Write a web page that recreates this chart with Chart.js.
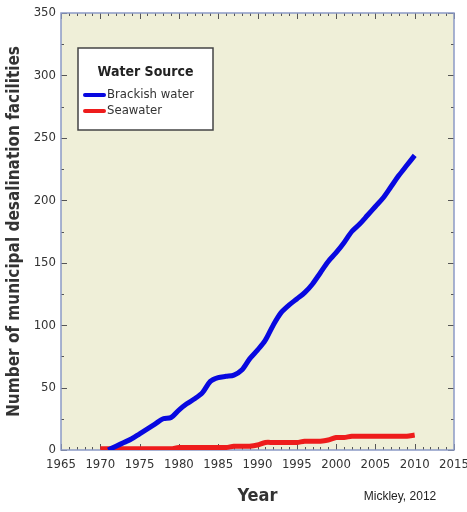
<!DOCTYPE html>
<html>
<head>
<meta charset="utf-8">
<script src="https://cdn.jsdelivr.net/npm/chart.js@4.4.1/dist/chart.umd.min.js"></script>
<style>
  html, body { margin: 0; padding: 0; background: #fff; }
</style>
</head>
<body>
<canvas id="desal-chart" width="467" height="512"></canvas>
<script>
const years = [1970, 1971, 1972, 1973, 1974, 1975, 1976, 1977, 1978, 1979,
               1980, 1981, 1982, 1983, 1984, 1985, 1986, 1987, 1988, 1989,
               1990, 1991, 1992, 1993, 1994, 1995, 1996, 1997, 1998, 1999,
               2000, 2001, 2002, 2003, 2004, 2005, 2006, 2007, 2008, 2009, 2010];
const brackish = [null, 0, 3, 6, 9, 13, 17, 21, 25, 26,
                  32, 37, 41, 46, 55, 58, 59, 60, 64, 73,
                  80, 88, 100, 110, 116, 121, 126, 133, 142, 151,
                  158, 166, 175, 181, 188, 195, 202, 211, 220, 228, 236];
const seawater = [1, 1, 1, 1, 1, 1, 1, 1, 1, 1,
                  2, 2, 2, 2, 2, 2, 2, 3, 3, 3,
                  4, 6, 6, 6, 6, 6, 7, 7, 7, 8,
                  10, 10, 11, 11, 11, 11, 11, 11, 11, 11, 12];
const seriesNames = ['Brackish water', 'Seawater'];
const seriesColors = ['#0808e0', '#ee1c1c'];
const xTicks = [1965, 1970, 1975, 1980, 1985, 1990, 1995, 2000, 2005, 2010, 2015];
const yTicks = [0, 50, 100, 150, 200, 250, 300, 350];

const tickFont = "'DejaVu Sans Condensed', 'Liberation Sans Narrow', sans-serif";

// plot background, frame, inside tick marks, legend box and source note
const decor = {
  id: 'decor',
  beforeDatasetsDraw(chart) {
    const { ctx, chartArea: a, scales } = chart;
    ctx.save();
    ctx.fillStyle = '#efefd8';
    ctx.fillRect(a.left, a.top, a.right - a.left, a.bottom - a.top);

    ctx.strokeStyle = '#555';
    ctx.lineWidth = 1;
    ctx.beginPath();
    for (let yr = 1965; yr <= 2015; yr++) {
      const x = Math.round(scales.x.getPixelForValue(yr)) + 0.5;
      const len = yr % 5 === 0 ? 6 : 3;
      ctx.moveTo(x, a.bottom); ctx.lineTo(x, a.bottom - len);
      ctx.moveTo(x, a.top); ctx.lineTo(x, a.top + len);
    }
    for (let v = 0; v <= 350; v += 25) {
      const y = Math.round(scales.y.getPixelForValue(v)) + 0.5;
      const len = v % 50 === 0 ? 6 : 3;
      ctx.moveTo(a.left, y); ctx.lineTo(a.left + len, y);
      ctx.moveTo(a.right, y); ctx.lineTo(a.right - len, y);
    }
    ctx.stroke();

    ctx.strokeStyle = '#8c9ac6';
    ctx.lineWidth = 1.5;
    ctx.strokeRect(a.left, a.top, a.right - a.left, a.bottom - a.top);
    ctx.restore();
  },
  afterDatasetsDraw(chart) {
    const { ctx, chartArea: a } = chart;
    const bx = a.left + 17, by = a.top + 35, bw = 135, bh = 82;
    ctx.save();
    ctx.fillStyle = '#fff';
    ctx.fillRect(bx, by, bw, bh);
    ctx.strokeStyle = '#444';
    ctx.lineWidth = 1.5;
    ctx.strokeRect(bx, by, bw, bh);

    ctx.fillStyle = '#222';
    ctx.font = "bold 14px " + tickFont;
    ctx.textAlign = 'center';
    ctx.textBaseline = 'middle';
    ctx.fillText('Water Source', bx + bw / 2, by + 24);

    ctx.font = "13px " + tickFont;
    ctx.textAlign = 'left';
    chart.data.datasets.forEach((ds, i) => {
      const y = by + 47 + i * 16;
      ctx.strokeStyle = ds.borderColor;
      ctx.lineWidth = 4;
      ctx.lineCap = 'round';
      ctx.beginPath();
      ctx.moveTo(bx + 7, y); ctx.lineTo(bx + 26, y);
      ctx.stroke();
      ctx.fillStyle = '#333';
      ctx.fillText(ds.label, bx + 29, y);
    });

    ctx.font = "12px 'Liberation Sans', Arial, sans-serif";
    ctx.fillStyle = '#222';
    ctx.textAlign = 'center';
    ctx.fillText('Mickley, 2012', 400, 497);
    ctx.restore();
  }
};

const ctx = document.getElementById('desal-chart').getContext('2d');

const chart = new Chart(ctx, {
  type: 'line',
  data: {
    datasets: [
      {
        label: seriesNames[0],
        data: years.map((yr, i) => ({ x: yr, y: brackish[i] })),
        borderColor: seriesColors[0],
        borderWidth: 5,
        pointRadius: 0,
        tension: 0.3
      },
      {
        label: seriesNames[1],
        data: years.map((yr, i) => ({ x: yr, y: seawater[i] })),
        borderColor: seriesColors[1],
        borderWidth: 5,
        pointRadius: 0,
        tension: 0.3
      }
    ]
  },
  options: {
    responsive: false,
    animation: false,
    layout: { padding: { top: 13, right: 13, left: 0, bottom: 0 } },
    plugins: {
      legend: { display: false },
      tooltip: { enabled: false }
    },
    scales: {
      x: {
        type: 'linear',
        min: 1965,
        max: 2015,
        afterBuildTicks: (scale) => { scale.ticks = xTicks.map(v => ({ value: v })); },
        afterFit: (scale) => {
          scale.height = 62;
          scale.paddingLeft = 0;
          scale.paddingRight = 0;
        },
        grid: { display: false, drawTicks: false },
        border: { display: false },
        ticks: {
          padding: 7,
          color: '#333',
          font: { family: tickFont, size: 13 },
          maxRotation: 0,
          callback: (v) => String(v)
        },
        title: {
          display: true,
          text: 'Year',
          color: '#333',
          font: { family: tickFont, size: 18, weight: 'bold' },
          padding: { top: 0, bottom: 5 }
        }
      },
      y: {
        min: 0,
        max: 350,
        afterBuildTicks: (scale) => { scale.ticks = yTicks.map(v => ({ value: v })); },
        afterFit: (scale) => {
          scale.width = 61;
          scale.paddingTop = 0;
          scale.paddingBottom = 0;
        },
        grid: { display: false, drawTicks: false },
        border: { display: false },
        ticks: {
          padding: 5,
          color: '#333',
          font: { family: tickFont, size: 13 }
        },
        title: {
          display: true,
          text: 'Number of municipal desalination facilities',
          color: '#333',
          font: { family: tickFont, size: 17, weight: 'bold' },
          padding: { top: 4, bottom: 0 }
        }
      }
    }
  },
  plugins: [decor]
});
</script>
</body>
</html>
